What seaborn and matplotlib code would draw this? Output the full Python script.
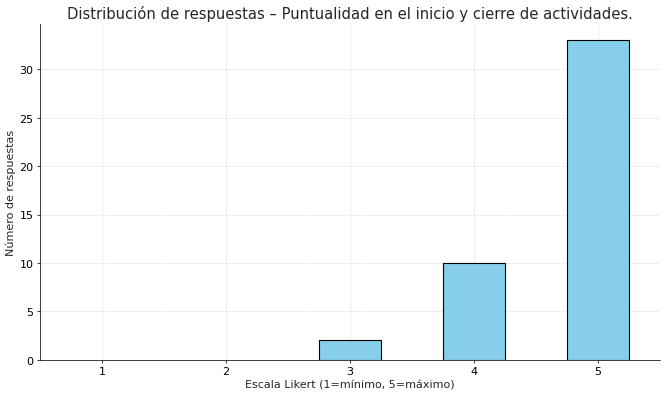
import numpy as np
import pandas as pd
import matplotlib
matplotlib.use('Agg')
import matplotlib.pyplot as plt
import seaborn as sns

# respuestas por nivel de la escala Likert
niveles = [1, 2, 3, 4, 5]
respuestas = [0, 0, 2, 10, 33]

df = pd.DataFrame({'nivel': niveles, 'n': respuestas})

sns.set_style('ticks')
plt.rcParams['font.family'] = ['DejaVu Sans']

fig, ax = plt.subplots(figsize=(10, 5.96), dpi=66.6)
sns.barplot(data=df, x='nivel', y='n', native_scale=True, width=0.5,
            color='skyblue', edgecolor='black', linewidth=1.2, saturation=1, ax=ax)
# zero-height bars draw nothing in the original
for p in ax.patches:
    if p.get_height() == 0:
        p.set_linewidth(0)
ax.set_xticks(niveles)
ax.set_xlim(0.5, 5.5)
ax.set_title('Distribución de respuestas – Puntualidad en el inicio y cierre de actividades.', fontsize=16)
ax.set_xlabel('Escala Likert (1=mínimo, 5=máximo)', fontsize=12)
ax.set_ylabel('Número de respuestas', fontsize=12)
ax.tick_params(labelsize=12, colors='black')
ax.grid(True, linestyle='--', alpha=0.6)
ax.set_axisbelow(True)
sns.despine()
for s in ['left', 'bottom']:
    ax.spines[s].set_color('black')
    ax.spines[s].set_zorder(5)
fig.subplots_adjust(left=0.06, right=0.991, bottom=0.091, top=0.937)
plt.savefig('out.png', dpi=66.6)
